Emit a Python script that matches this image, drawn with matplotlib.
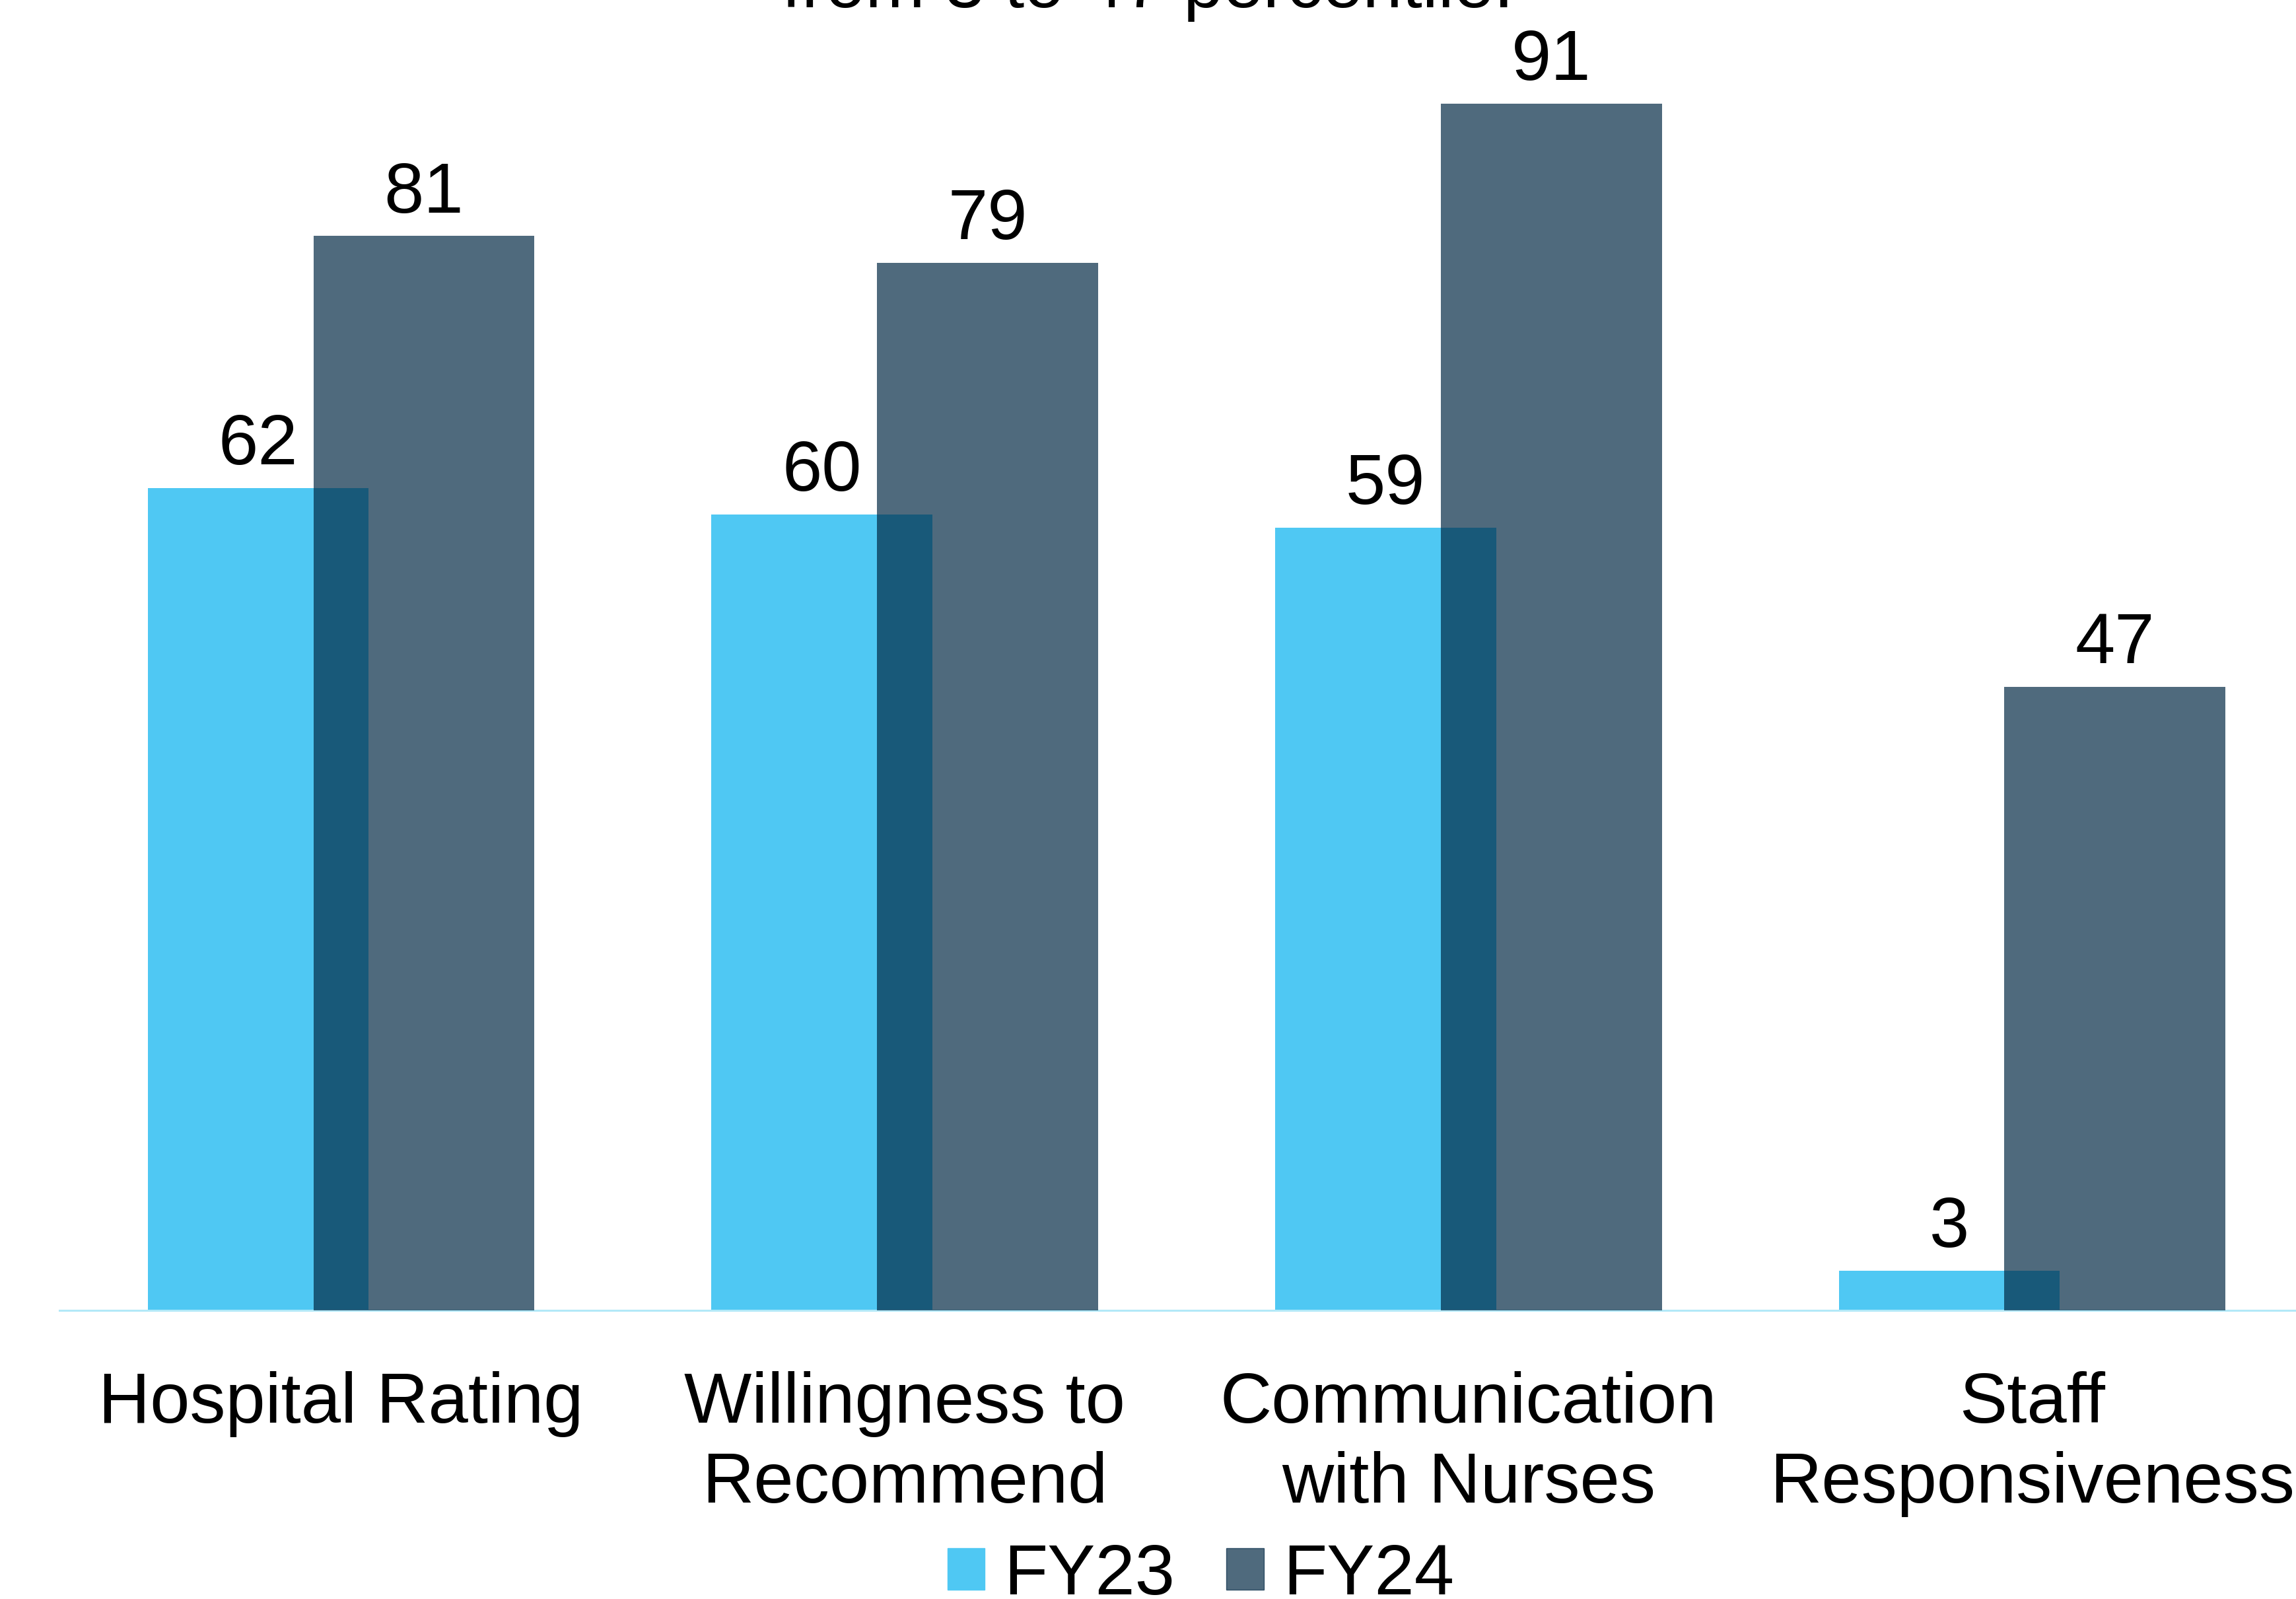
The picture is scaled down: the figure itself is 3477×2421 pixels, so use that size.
import matplotlib
matplotlib.use("Agg")
from matplotlib import pyplot as plt
from matplotlib.patches import Patch
import numpy as np

categories = ['Hospital Rating', 'Willingness to\nRecommend',
              'Communication\nwith Nurses', 'Staff\nResponsiveness']
fy23 = [62, 60, 59, 3]
fy24 = [81, 79, 91, 47]
series_names = ['FY23', 'FY24']
title_line = 'from 3 to 47 percentile.'

plt.rcParams['font.family'] = ['Liberation Sans', 'DejaVu Sans']
fs = 78

c23 = '#4FC8F3'
c24 = '#002743'
a24 = 0.69

fig = plt.figure(figsize=(34.77, 24.21), dpi=100)
ax = fig.add_axes([0.0258, 0.1804, 0.982, 0.8196])

x = np.arange(len(categories))
w = 0.392
off = 0.147
b1 = ax.bar(x - off, fy23, w, color=c23, zorder=2)
b2 = ax.bar(x + off, fy24, w, color=c24, alpha=a24, zorder=3)
ax.bar_label(b1, fontsize=fs, padding=10)
ax.bar_label(b2, fontsize=fs, padding=10)

ax.set_xlim(-0.5, 3.5)
ax.set_ylim(0, 98.8)
for s in ['top', 'right', 'left']:
    ax.spines[s].set_visible(False)
ax.spines['bottom'].set_color('#B3E9F8')
ax.spines['bottom'].set_linewidth(2.2)
ax.set_yticks([])
ax.set_xticks(x)
ax.set_xticklabels(categories, fontsize=fs, linespacing=1.27)
ax.tick_params(axis='x', length=0, pad=66)

fig.text(0.5, 0.9955, title_line, fontsize=fs, ha='center', va='baseline')

handles = [Patch(color=c23), Patch(color=c24, alpha=a24)]
fig.legend(handles, series_names, loc='center', bbox_to_anchor=(0.523, 0.0145),
           ncol=2, frameon=False, fontsize=fs, handlelength=0.52,
           handleheight=0.52, handletextpad=0.27, columnspacing=0.72)

fig.savefig('out.png', dpi=100)
